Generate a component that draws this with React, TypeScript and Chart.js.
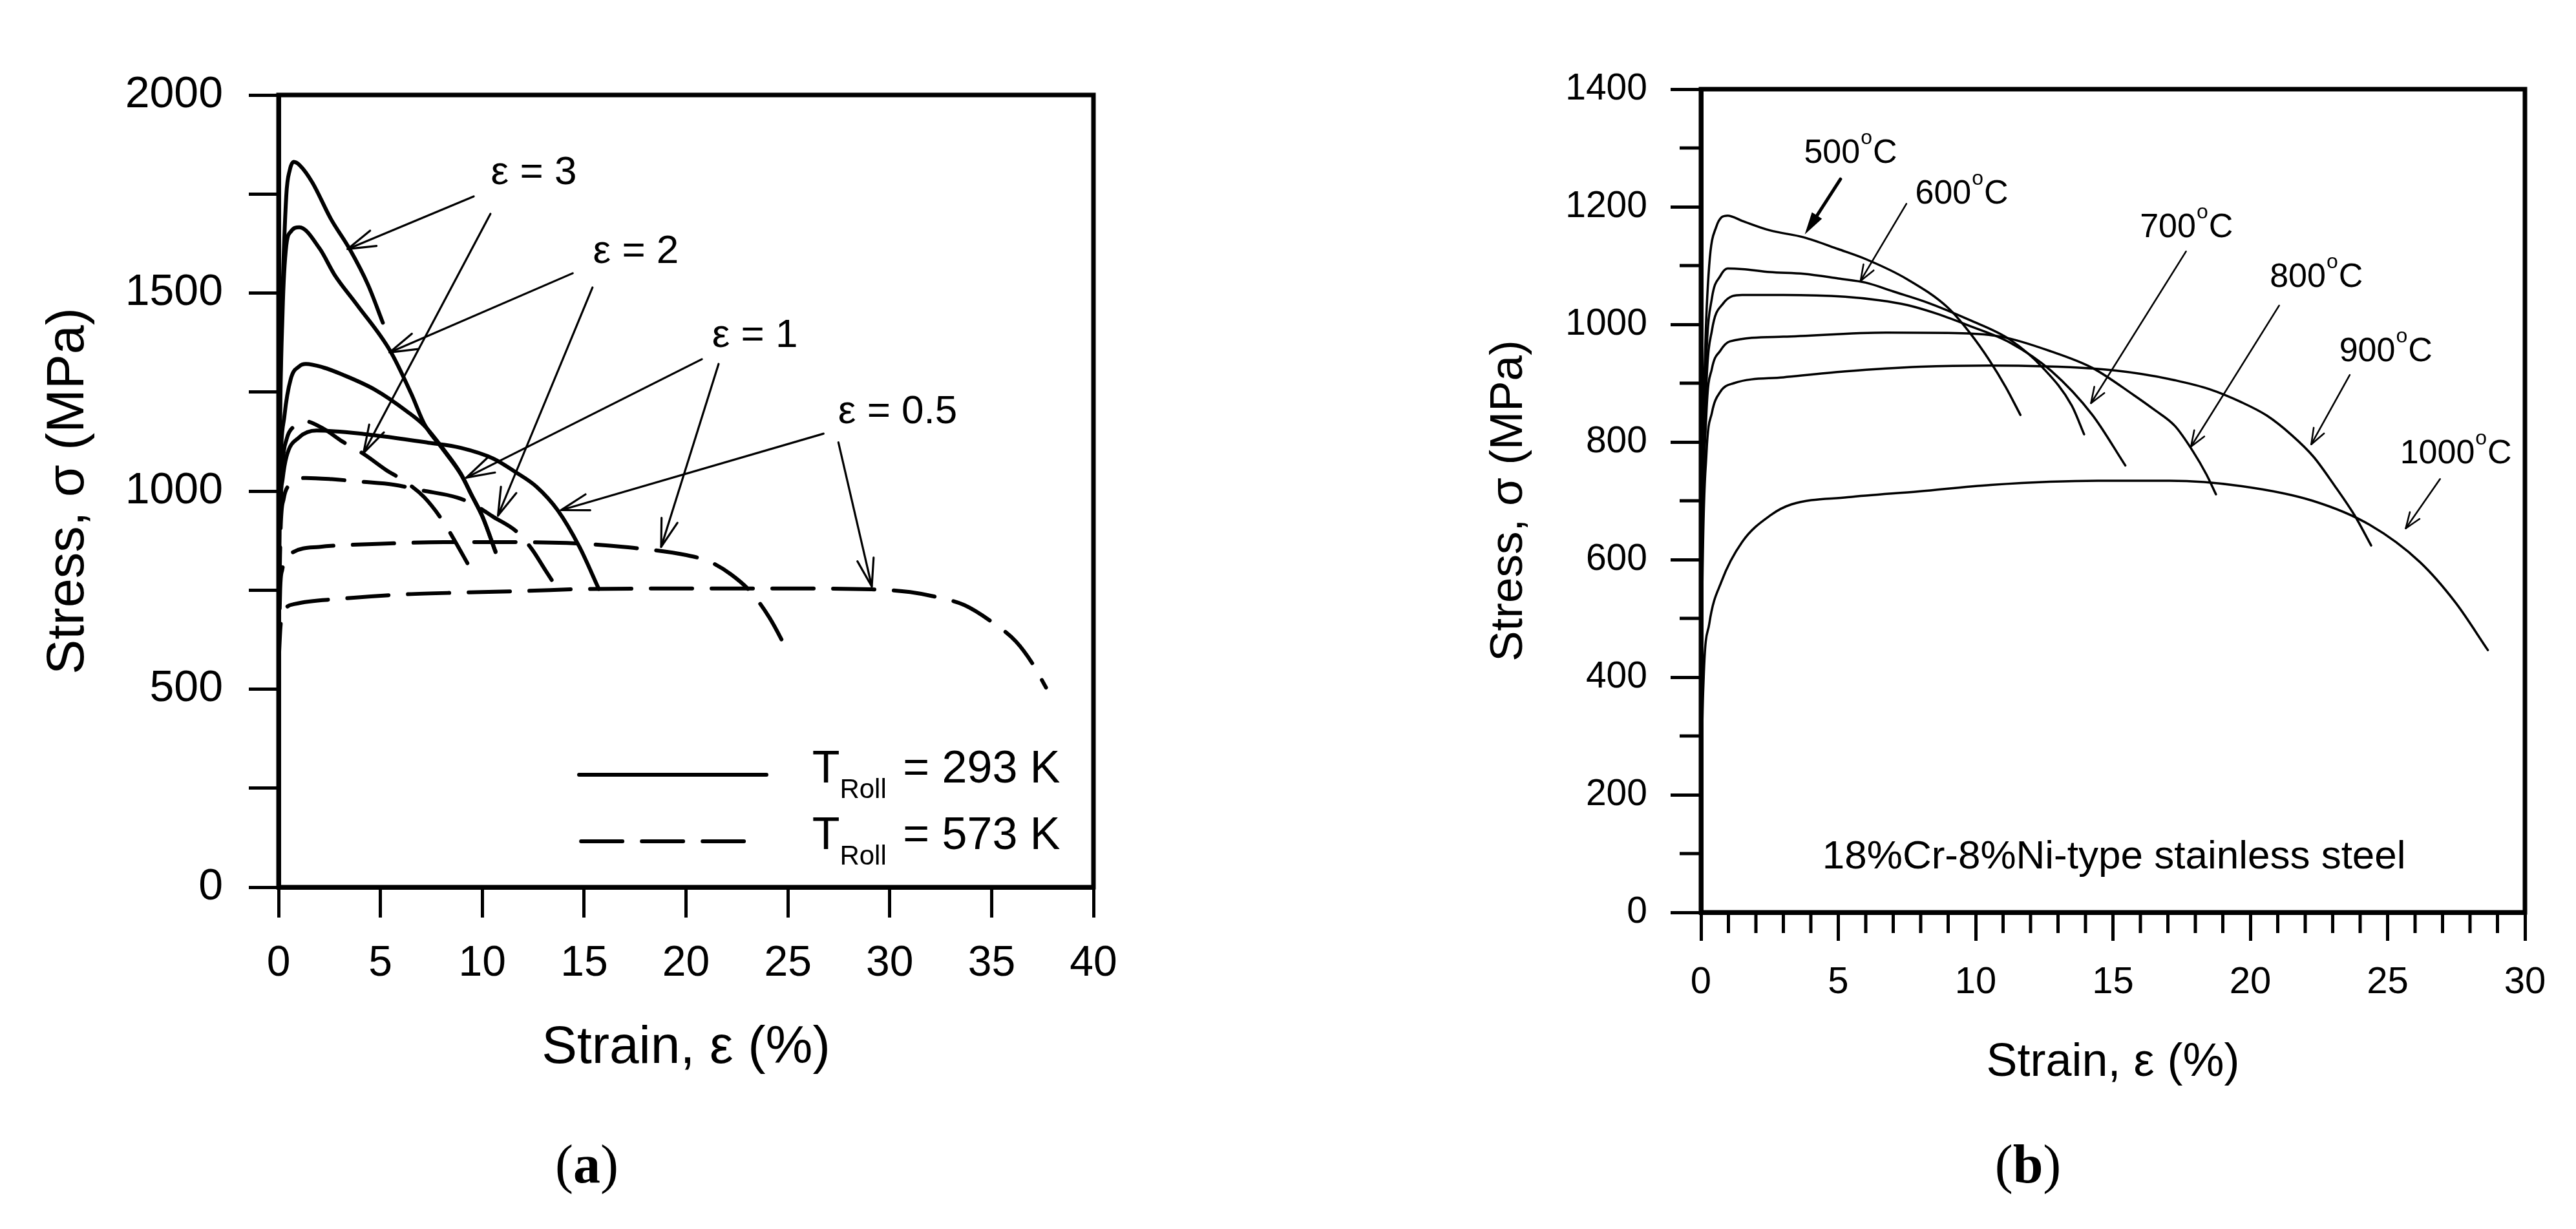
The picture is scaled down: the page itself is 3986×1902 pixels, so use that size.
import React, { useEffect, useRef } from 'react';
import { Chart, registerables } from 'chart.js';

Chart.register(...registerables);

const FONT = '"Liberation Sans", Arial, Helvetica, sans-serif';
const SERIF = '"Liberation Serif", "Times New Roman", serif';
const BLACK = '#000000';

// ---------------- Panel (a) data ----------------
const aYTickLabels = ['0', '500', '1000', '1500', '2000'];

// T_Roll = 293 K (solid)
const a293e3Strain = [0, 0.05, 0.2, 0.38, 0.55, 0.75, 1.05, 1.66, 2.57, 3.48, 4.39, 5.12];
const a293e3Stress = [600, 1100, 1496, 1746, 1810, 1831, 1822, 1779, 1687, 1612, 1521, 1425];
const a293e2Strain = [0, 0.05, 0.2, 0.38, 0.6, 1.02, 2.02, 2.75, 3.84, 5.48, 6.52, 7.16, 8.0, 8.95, 9.48, 10.01, 10.65];
const a293e2Stress = [600, 1050, 1454, 1620, 1655, 1666, 1612, 1546, 1471, 1354, 1245, 1169, 1110, 1042, 989, 935, 848];
const a293e1Strain = [0, 0.05, 0.29, 0.6, 1.02, 1.34, 2.2, 3.14, 4.73, 6.31, 7.16, 8.0, 8.95, 9.48, 10.01, 10.65];
const a293e1Stress = [600, 950, 1190, 1283, 1315, 1321, 1312, 1294, 1256, 1201, 1165, 1112, 1044, 990, 936, 846];
const a293e05Strain = [0, 0.05, 0.2, 0.39, 1.02, 1.87, 4.2, 7.37, 8.95, 10.54, 11.6, 12.66, 13.71, 14.77, 15.72];
const a293e05Stress = [600, 900, 1030, 1087, 1136, 1153, 1144, 1122, 1109, 1082, 1049, 1011, 951, 859, 753];

// T_Roll = 573 K (dashed)
const a573e3Strain = [0, 0.1, 0.2, 0.39, 0.8, 1.24, 2.19, 3.14, 4.2, 5.26, 6.21, 7.16, 8.11, 8.7, 9.27];
const a573e3Stress = [600, 950, 1070, 1130, 1165, 1177, 1158, 1125, 1093, 1054, 1024, 984, 921, 870, 818];
const a573e2Strain = [0, 0.1, 0.25, 0.5, 1.34, 2.61, 4.0, 5.68, 7.0, 8.75, 9.54, 10.54, 11.7, 12.44, 13.1, 13.77];
const a573e2Stress = [600, 900, 980, 1014, 1033, 1030, 1024, 1016, 1002, 984, 967, 935, 897, 853, 800, 747];
const a573e1Strain = [0, 0.08, 0.18, 0.6, 1.98, 5.04, 8.11, 11.07, 14.14, 17.16, 20.05, 21.15, 22.2, 23.15, 24.1, 25.04];
const a573e1Stress = [550, 750, 801, 842, 859, 867, 871, 871, 869, 858, 838, 822, 790, 747, 680, 591];
const a573e05Strain = [0, 0.1, 0.3, 0.81, 3.04, 6.1, 9.17, 12.18, 15.2, 20, 25, 29.1, 31, 32.5, 33.67, 35, 36.2, 37, 37.67];
const a573e05Stress = [560, 660, 700, 715, 728, 739, 744, 748, 753, 754, 754, 752, 745, 730, 712, 670, 620, 565, 504];

// annotation labels (a)
const aLabelText = ['ε = 3', 'ε = 2', 'ε = 1', 'ε = 0.5'];
const aLabelX = [12.53, 17.54, 23.38, 30.39];
const aLabelY = [1775, 1576, 1364, 1171];
// arrows (a)
const aArrowFrom = [[9.58, 1744], [10.4, 1700], [14.44, 1550], [15.41, 1514], [20.78, 1333], [21.6, 1321], [26.75, 1145], [27.48, 1123]];
const aArrowTo = [[3.39, 1611], [4.17, 1096], [5.45, 1350], [10.77, 938], [9.22, 1034], [18.78, 859], [13.87, 952], [29.12, 759]];
// legend (a)
const aLegendLabels = ['293 K', '573 K'];
const aLegendLineStart = [14.75, 14.85];
const aLegendLineEnd = [23.95, 22.9];
const aLegendLineY = [284, 116];
const aLegendTextX = 26.19;
const aLegendTextY = [265, 97];

// ---------------- Panel (b) data ----------------
const bYTickLabels = ['0', '200', '400', '600', '800', '1000', '1200', '1400'];
const b500Strain = [0, 0.05, 0.15, 0.3, 0.55, 0.97, 1.5, 2.5, 3.75, 5, 6, 7.5, 9, 9.8, 10.5, 11.1, 11.63];
const b500Stress = [350, 700, 950, 1100, 1165, 1185, 1176, 1160, 1148, 1128, 1111, 1077, 1028, 985, 939, 893, 846];
const b600Strain = [0, 0.05, 0.2, 0.4, 0.7, 0.97, 1.5, 2.5, 3.75, 5, 6, 7, 8.25, 9.75, 11.25, 12.45, 13.5, 13.95];
const b600Stress = [350, 700, 950, 1045, 1082, 1095, 1094, 1089, 1086, 1078, 1071, 1056, 1037, 1008, 974, 926, 862, 813];
const b700Strain = [0, 0.05, 0.2, 0.4, 0.8, 1.5, 3, 5.25, 6.5, 7.5, 8.6, 9.75, 11.25, 12.75, 14.25, 15.45];
const b700Stress = [300, 650, 900, 990, 1035, 1050, 1050, 1047, 1041, 1033, 1018, 998, 969, 921, 846, 760];
const b800Strain = [0, 0.05, 0.2, 0.4, 0.7, 1.05, 3, 6.75, 9.5, 10.95, 12.75, 14.25, 15.75, 16.5, 17.26, 17.9, 18.4, 18.75];
const b800Stress = [300, 600, 850, 925, 955, 971, 979, 986, 985, 979, 954, 926, 880, 855, 827, 785, 745, 711];
const b900Strain = [0, 0.05, 0.2, 0.4, 0.7, 1.2, 3, 5.25, 8, 10.5, 14.25, 16, 17.26, 18.5, 19.66, 20.6, 21.5, 22.3, 23.05, 23.8, 24.4];
const b900Stress = [250, 550, 780, 850, 885, 900, 910, 920, 928, 930, 925, 916, 905, 890, 868, 845, 812, 775, 727, 675, 624];
const b1000Strain = [0, 0.03, 0.1, 0.3, 0.75, 1.5, 2.55, 3.3, 5.34, 7.94, 10.55, 14.45, 17.06, 19.66, 22.27, 24.35, 26.17, 27.47, 28.65];
const b1000Stress = [30, 250, 400, 490, 563, 630, 676, 694, 706, 716, 727, 734, 734, 725, 700, 659, 596, 527, 446];

const bTempLabels = ['500', '600', '700', '800', '900', '1000'];
const bLabelX = [3.75, 7.8, 15.98, 20.71, 23.24, 25.45];
const bLabelY = [1275, 1205, 1148, 1064, 937, 764];
const bArrowFrom = [[5.08, 1247], [7.48, 1205], [17.66, 1124], [21.05, 1032], [23.62, 914], [26.91, 737]];
const bArrowTo = [[3.78, 1153], [5.81, 1074], [14.2, 866], [17.84, 792], [22.22, 796], [25.66, 653]];
const bNote = '18%Cr-8%Ni-type stainless steel';
const bNoteX = 15.04;
const bNoteY = 75;

// ---------------- helpers ----------------
const pts = (xs: number[], ys: number[]) => xs.map((x, i) => ({ x, y: ys[i] }));

function drawArrow(ctx: CanvasRenderingContext2D, x1: number, y1: number, x2: number, y2: number,
  lw: number, headLen: number, halfAngle: number, filled: boolean) {
  const ang = Math.atan2(y2 - y1, x2 - x1);
  ctx.lineWidth = lw;
  ctx.lineCap = 'round';
  ctx.lineJoin = 'round';
  ctx.setLineDash([]);
  ctx.beginPath();
  if (filled) {
    ctx.moveTo(x1, y1);
    ctx.lineTo(x2 - Math.cos(ang) * headLen * 0.8, y2 - Math.sin(ang) * headLen * 0.8);
  } else {
    ctx.moveTo(x1, y1);
    ctx.lineTo(x2, y2);
  }
  ctx.stroke();
  const a1 = ang + Math.PI - halfAngle;
  const a2 = ang + Math.PI + halfAngle;
  const p1x = x2 + headLen * Math.cos(a1), p1y = y2 + headLen * Math.sin(a1);
  const p2x = x2 + headLen * Math.cos(a2), p2y = y2 + headLen * Math.sin(a2);
  ctx.beginPath();
  ctx.moveTo(p1x, p1y);
  ctx.lineTo(x2, y2);
  ctx.lineTo(p2x, p2y);
  if (filled) {
    ctx.closePath();
    ctx.fill();
  } else {
    ctx.stroke();
  }
}

function boxPlugin(id: string) {
  return {
    id,
    afterDatasetsDraw(chart: any) {
      const { ctx, chartArea } = chart;
      ctx.save();
      ctx.strokeStyle = BLACK;
      ctx.lineWidth = 7;
      ctx.setLineDash([]);
      ctx.strokeRect(chartArea.left, chartArea.top, chartArea.right - chartArea.left, chartArea.bottom - chartArea.top);
      ctx.restore();
    },
  };
}

function drawPanelLabel(ctx: CanvasRenderingContext2D, letter: string, cx: number, by: number) {
  ctx.textAlign = 'left';
  ctx.textBaseline = 'alphabetic';
  ctx.font = `84px ${SERIF}`;
  const wp = ctx.measureText('(').width;
  ctx.font = `bold 84px ${SERIF}`;
  const wl = ctx.measureText(letter).width;
  const sx = cx - (wp * 2 + wl) / 2;
  ctx.font = `84px ${SERIF}`;
  ctx.fillText('(', sx, by);
  ctx.font = `bold 84px ${SERIF}`;
  ctx.fillText(letter, sx + wp, by);
  ctx.font = `84px ${SERIF}`;
  ctx.fillText(')', sx + wp + wl, by);
}

const panelAPlugin = {
  id: 'panelAExtras',
  afterDraw(chart: any) {
    const { ctx } = chart;
    const xs = chart.scales.x;
    const ys = chart.scales.y;
    ctx.save();
    ctx.strokeStyle = BLACK;
    ctx.fillStyle = BLACK;
    aArrowFrom.forEach((f, i) => {
      const t = aArrowTo[i];
      drawArrow(ctx, xs.getPixelForValue(f[0]), ys.getPixelForValue(f[1]),
        xs.getPixelForValue(t[0]), ys.getPixelForValue(t[1]), 3.2, 45, 0.29, false);
    });
    ctx.font = `62px ${FONT}`;
    ctx.textAlign = 'center';
    ctx.textBaseline = 'alphabetic';
    aLabelText.forEach((t, i) => {
      ctx.fillText(t, xs.getPixelForValue(aLabelX[i]), ys.getPixelForValue(aLabelY[i]));
    });
    // legend
    ctx.lineWidth = 6;
    ctx.lineCap = 'round';
    aLegendLineY.forEach((v, i) => {
      const yy = ys.getPixelForValue(v);
      ctx.setLineDash(i === 0 ? [] : [64, 30]);
      ctx.beginPath();
      ctx.moveTo(xs.getPixelForValue(aLegendLineStart[i]), yy);
      ctx.lineTo(xs.getPixelForValue(aLegendLineEnd[i]), yy);
      ctx.stroke();
    });
    ctx.setLineDash([]);
    ctx.textAlign = 'left';
    aLegendLabels.forEach((lab, i) => {
      let px = xs.getPixelForValue(aLegendTextX);
      const py = ys.getPixelForValue(aLegendTextY[i]);
      ctx.font = `70px ${FONT}`;
      ctx.fillText('T', px, py);
      px += ctx.measureText('T').width;
      ctx.font = `42px ${FONT}`;
      ctx.fillText('Roll', px, py + 24);
      px += ctx.measureText('Roll').width;
      ctx.font = `70px ${FONT}`;
      ctx.fillText(' = ' + lab, px + 6, py);
    });
    drawPanelLabel(ctx, 'a', 908, 1830);
    ctx.restore();
  },
};

const panelBPlugin = {
  id: 'panelBExtras',
  afterDraw(chart: any) {
    const { ctx, chartArea } = chart;
    const xs = chart.scales.x;
    const ys = chart.scales.y;
    ctx.save();
    ctx.strokeStyle = BLACK;
    ctx.fillStyle = BLACK;
    ctx.setLineDash([]);
    // minor ticks
    ctx.lineWidth = 5;
    ctx.lineCap = 'butt';
    for (let v = 0; v <= 30; v += 1) {
      if (v % 5 === 0) continue;
      const px = xs.getPixelForValue(v);
      ctx.beginPath();
      ctx.moveTo(px, chartArea.bottom);
      ctx.lineTo(px, chartArea.bottom + 32);
      ctx.stroke();
    }
    for (let v = 100; v < 1400; v += 200) {
      const py = ys.getPixelForValue(v);
      ctx.beginPath();
      ctx.moveTo(chartArea.left, py);
      ctx.lineTo(chartArea.left - 33, py);
      ctx.stroke();
    }
    bArrowFrom.forEach((f, i) => {
      const t = bArrowTo[i];
      if (i === 0) {
        drawArrow(ctx, xs.getPixelForValue(f[0]), ys.getPixelForValue(f[1]),
          xs.getPixelForValue(t[0]), ys.getPixelForValue(t[1]), 5, 36, 0.26, true);
      } else {
        drawArrow(ctx, xs.getPixelForValue(f[0]), ys.getPixelForValue(f[1]),
          xs.getPixelForValue(t[0]), ys.getPixelForValue(t[1]), 2.6, 26, 0.36, false);
      }
    });
    ctx.textAlign = 'left';
    ctx.textBaseline = 'alphabetic';
    bTempLabels.forEach((t, i) => {
      let px = xs.getPixelForValue(bLabelX[i]);
      const py = ys.getPixelForValue(bLabelY[i]);
      ctx.font = `52px ${FONT}`;
      ctx.fillText(t, px, py);
      px += ctx.measureText(t).width + 1;
      ctx.font = `32px ${FONT}`;
      ctx.fillText('o', px, py - 29);
      px += ctx.measureText('o').width + 1;
      ctx.font = `52px ${FONT}`;
      ctx.fillText('C', px, py);
    });
    ctx.font = `62px ${FONT}`;
    ctx.textAlign = 'center';
    ctx.fillText(bNote, xs.getPixelForValue(bNoteX), ys.getPixelForValue(bNoteY));
    drawPanelLabel(ctx, 'b', 1148, 1830);
    ctx.restore();
  },
};

function lineDs(label: string, xs: number[], ys: number[], width: number, dashed: boolean) {
  return {
    label,
    data: pts(xs, ys),
    borderColor: BLACK,
    backgroundColor: BLACK,
    borderWidth: width,
    borderDash: dashed ? [64, 30] : [],
    borderCapStyle: 'round',
    borderJoinStyle: 'round',
    pointRadius: 0,
    fill: false,
    cubicInterpolationMode: 'monotone',
  };
}

function axisCommon(fontSize: number, tickLen: number) {
  return {
    grid: { display: true, drawOnChartArea: false, drawTicks: true, tickLength: tickLen, lineWidth: 5, color: BLACK, tickColor: BLACK },
    border: { display: true, width: 7, color: BLACK },
    ticks: { color: BLACK, font: { family: FONT, size: fontSize }, autoSkip: false, maxRotation: 0, minRotation: 0 },
  };
}

export default function App() {
  const refA = useRef<HTMLCanvasElement | null>(null);
  const refB = useRef<HTMLCanvasElement | null>(null);

  useEffect(() => {
    const xA = axisCommon(66, 47);
    const yA = axisCommon(68, 46);
    const chartA = new Chart(refA.current as HTMLCanvasElement, {
      type: 'line',
      data: {
        datasets: [
          lineDs('ε = 3, 293 K', a293e3Strain, a293e3Stress, 6, false),
          lineDs('ε = 2, 293 K', a293e2Strain, a293e2Stress, 6, false),
          lineDs('ε = 1, 293 K', a293e1Strain, a293e1Stress, 6, false),
          lineDs('ε = 0.5, 293 K', a293e05Strain, a293e05Stress, 6, false),
          lineDs('ε = 3, 573 K', a573e3Strain, a573e3Stress, 6, true),
          lineDs('ε = 2, 573 K', a573e2Strain, a573e2Stress, 6, true),
          lineDs('ε = 1, 573 K', a573e1Strain, a573e1Stress, 6, true),
          lineDs('ε = 0.5, 573 K', a573e05Strain, a573e05Stress, 6, true),
        ] as any,
      },
      options: {
        animation: false,
        responsive: false,
        maintainAspectRatio: false,
        events: [],
        layout: { padding: { left: 0, right: 298, top: 147, bottom: 0 } },
        plugins: { legend: { display: false }, tooltip: { enabled: false }, title: { display: false } },
        scales: {
          x: {
            type: 'linear', min: 0, max: 40,
            afterFit: (s: any) => { s.height = 529; },
            grid: xA.grid, border: xA.border,
            ticks: { ...xA.ticks, stepSize: 5, padding: 32 },
            title: { display: true, text: 'Strain, ε (%)', color: BLACK, font: { family: FONT, size: 82 }, padding: { top: 0, bottom: 230 } },
          },
          y: {
            type: 'linear', min: 0, max: 2000,
            afterFit: (s: any) => { s.width = 431; },
            grid: yA.grid, border: yA.border,
            ticks: { ...yA.ticks, stepSize: 250, padding: 40, callback: (v: any) => (aYTickLabels.includes(String(v)) ? String(v) : '') },
            title: { display: true, text: 'Stress, σ (MPa)', color: BLACK, font: { family: FONT, size: 81 }, padding: { top: 58, bottom: 0 } },
          },
        },
      } as any,
      plugins: [boxPlugin('boxA'), panelAPlugin] as any,
    });

    const xB = axisCommon(58, 44);
    const yB = axisCommon(57, 47);
    const chartB = new Chart(refB.current as HTMLCanvasElement, {
      type: 'line',
      data: {
        datasets: [
          lineDs('500°C', b500Strain, b500Stress, 3.5, false),
          lineDs('600°C', b600Strain, b600Stress, 3.5, false),
          lineDs('700°C', b700Strain, b700Stress, 3.5, false),
          lineDs('800°C', b800Strain, b800Stress, 3.5, false),
          lineDs('900°C', b900Strain, b900Stress, 3.5, false),
          lineDs('1000°C', b1000Strain, b1000Stress, 3.5, false),
        ] as any,
      },
      options: {
        animation: false,
        responsive: false,
        maintainAspectRatio: false,
        events: [],
        layout: { padding: { left: 0, right: 79, top: 138, bottom: 0 } },
        plugins: { legend: { display: false }, tooltip: { enabled: false }, title: { display: false } },
        scales: {
          x: {
            type: 'linear', min: 0, max: 30,
            afterFit: (s: any) => { s.height = 490; },
            grid: xB.grid, border: xB.border,
            ticks: { ...xB.ticks, stepSize: 5, padding: 30 },
            title: { display: true, text: 'Strain, ε (%)', color: BLACK, font: { family: FONT, size: 72 }, padding: { top: 0, bottom: 214 } },
          },
          y: {
            type: 'linear', min: 0, max: 1400,
            afterFit: (s: any) => { s.width = 642; },
            grid: yB.grid, border: yB.border,
            ticks: { ...yB.ticks, stepSize: 200, padding: 36, callback: (v: any) => (bYTickLabels.includes(String(v)) ? String(v) : '') },
            title: { display: true, text: 'Stress, σ (MPa)', color: BLACK, font: { family: FONT, size: 71 }, padding: { top: 303, bottom: 0 } },
          },
        },
      } as any,
      plugins: [boxPlugin('boxB'), panelBPlugin] as any,
    });

    return () => {
      chartA.destroy();
      chartB.destroy();
    };
  }, []);

  return (
    <div style={{ position: 'absolute', left: 0, top: 0, width: 3986, height: 1902, background: '#ffffff', overflow: 'hidden' }}>
      <canvas ref={refA} width={1990} height={1902} style={{ position: 'absolute', left: 0, top: 0, width: 1990, height: 1902 }} />
      <canvas ref={refB} width={1996} height={1902} style={{ position: 'absolute', left: 1990, top: 0, width: 1996, height: 1902 }} />
    </div>
  );
}
